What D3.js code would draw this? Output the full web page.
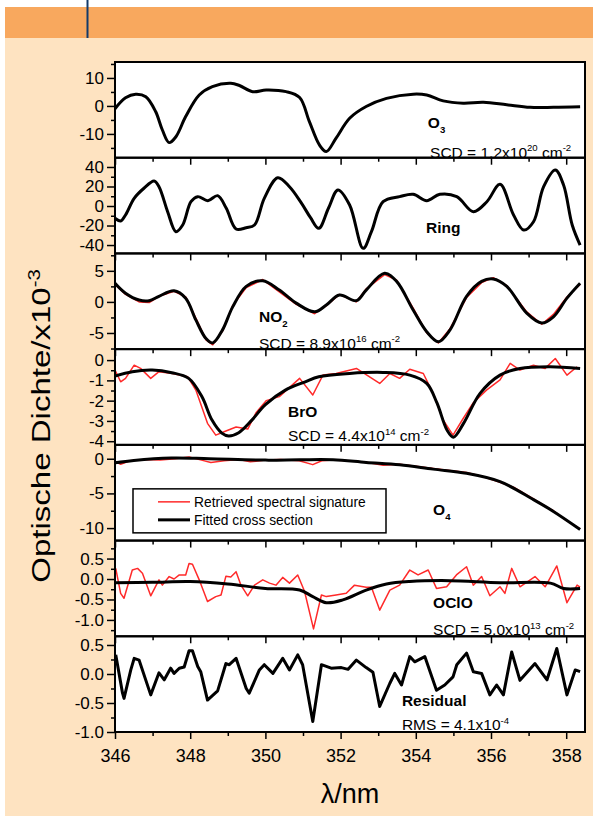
<!DOCTYPE html>
<html>
<head>
<meta charset="utf-8">
<script src="https://cdn.jsdelivr.net/npm/d3@7"></script>
<style>
  body { margin: 0; background: #fff; }
  text { font-family: "Liberation Sans", Arial, Helvetica, sans-serif; white-space: pre; }
</style>
</head>
<body>
<div id="chart"></div>
<script>
// wavelength axis ticks (nm)
var xTicks = [346, 348, 350, 352, 354, 356, 358];
var xMinorTicks = [347, 349, 351, 353, 355, 357];

// O3
var o3Nm = [346.0, 346.28, 346.55, 346.82, 347.08, 347.26, 347.44, 347.62, 347.88, 348.24, 348.59, 349.08, 349.31, 349.66, 350.02, 350.55, 350.91, 351.17, 351.44, 351.62, 351.88, 352.24, 352.68, 353.22, 353.93, 354.29, 354.73, 355.26, 355.8, 356.42, 357.04, 357.66, 358.37];
var o3Fit = [-1.0, 2.9, 4.2, 3.3, -2.0, -8.6, -13.1, -11.0, -3.8, 3.9, 6.9, 8.1, 7.3, 5.1, 5.7, 5.1, 3.0, -5.6, -14.0, -16.3, -11.5, -4.4, -0.2, 2.7, 4.2, 3.9, 1.8, 1.0, 1.3, 0.4, -0.5, -0.5, -0.3];
var o3Ticks = [-10, 0, 10], o3Minor = [-15, -5, 5, 15];

// Ring
var ringNm = [346.0, 346.15, 346.28, 346.51, 346.77, 347.04, 347.17, 347.4, 347.62, 347.8, 348.02, 348.2, 348.47, 348.73, 348.96, 349.22, 349.49, 349.71, 349.97, 350.33, 350.64, 350.95, 351.2, 351.42, 351.68, 351.93, 352.24, 352.6, 352.82, 353.13, 353.57, 353.93, 354.29, 354.64, 355.09, 355.53, 355.89, 356.24, 356.6, 356.87, 357.13, 357.4, 357.71, 357.93, 358.16, 358.37];
var ringFit = [-12.6, -15.4, -9.2, 7.9, 18.2, 25.6, 19.8, -5.8, -26.3, -19.5, 4.4, 9.6, 5.5, 10.6, -2.4, -23.6, -22.2, -19.5, 7.9, 29.0, 19.8, 3.5, -12.0, -22.9, -2.0, 16.4, 1.0, -43.4, -26.3, 4.4, 9.6, 12.0, 5.5, 12.0, 9.6, -5.8, 4.4, 22.2, -9.2, -24.6, -16.1, 19.8, 36.9, 21.5, -19.5, -40.0];
var ringTicks = [-40, -20, 0, 20, 40], ringMinor = [-30, -10, 10, 30];

// NO2
var no2Nm = [346.0, 346.28, 346.64, 346.91, 347.17, 347.57, 347.88, 348.15, 348.42, 348.6, 348.86, 349.13, 349.49, 349.93, 350.37, 350.82, 351.31, 351.62, 351.97, 352.42, 352.68, 353.17, 353.49, 353.93, 354.29, 354.6, 354.91, 355.35, 355.75, 356.06, 356.42, 356.95, 357.35, 357.66, 358.02, 358.37];
var no2Fit = [3.0, 1.4, 0.3, 0.2, 0.9, 1.8, 0.6, -2.9, -5.9, -6.6, -4.5, -0.8, 2.5, 3.4, 1.9, -0.2, -1.6, -0.5, 1.1, 0.2, 1.9, 4.6, 3.3, -1.3, -4.8, -6.4, -4.5, 0.9, 3.3, 3.7, 2.5, -1.8, -3.4, -2.4, 0.6, 3.0];
var no2Sig = [2.8, 1.2, 0.0, -0.1, 0.9, 1.7, 0.8, -2.6, -6.1, -6.9, -4.7, -0.6, 2.3, 3.6, 1.6, -0.4, -1.9, -0.6, 1.2, 0.0, 2.1, 4.4, 3.5, -1.0, -5.0, -6.6, -4.3, 0.7, 3.1, 3.9, 2.6, -1.6, -3.6, -2.0, 0.8, 2.8];
var no2Ticks = [-5, 0, 5], no2Minor = [-7.5, -2.5, 2.5, 7.5];

// BrO
var broNm = [346.0, 346.46, 346.99, 347.51, 347.96, 348.31, 348.58, 348.84, 349.02, 349.29, 349.64, 350.0, 350.53, 351.06, 351.42, 352.24, 353.13, 353.84, 354.29, 354.56, 354.83, 355.0, 355.27, 355.71, 356.24, 356.77, 357.57, 358.37];
var broFit = [-0.79, -0.57, -0.49, -0.62, -0.9, -1.8, -2.96, -3.6, -3.74, -3.58, -2.96, -2.2, -1.48, -1.07, -0.82, -0.66, -0.61, -0.74, -1.15, -2.1, -3.45, -3.8, -3.12, -1.64, -0.74, -0.41, -0.33, -0.41];
var broSigNm = [346.0, 346.15, 346.28, 346.51, 346.68, 346.95, 347.17, 347.53, 347.93, 348.15, 348.46, 348.68, 348.95, 349.22, 349.53, 349.75, 350.02, 350.37, 350.91, 351.26, 351.53, 351.88, 352.42, 353.04, 353.31, 353.57, 353.84, 354.2, 354.46, 354.73, 354.99, 355.26, 355.53, 355.88, 356.24, 356.51, 356.77, 357.13, 357.44, 357.71, 358.02, 358.29];
var broSig = [-0.49, -1.07, -0.9, -0.25, -0.41, -0.9, -0.57, -0.66, -0.82, -1.48, -3.12, -3.7, -3.5, -3.3, -3.4, -2.6, -2.0, -1.8, -0.9, -1.72, -0.74, -0.66, -0.41, -1.15, -0.66, -0.9, -0.45, -0.66, -1.64, -2.96, -3.7, -2.88, -2.1, -1.48, -0.98, -0.16, -0.49, -0.25, -0.41, 0.08, -0.74, -0.33];
var broTicks = [-4, -3, -2, -1, 0], broMinor = [-3.5, -2.5, -1.5, -0.5];

// O4
var o4Nm = [346.0, 346.5, 347.5, 348.5, 350.0, 350.91, 351.8, 352.68, 353.57, 354.46, 355.35, 356.24, 357.13, 357.66, 358.37];
var o4Fit = [-0.6, -0.25, 0.1, 0.0, -0.2, -0.15, -0.15, -0.53, -0.87, -1.5, -2.1, -3.3, -5.9, -7.6, -10.2];
var o4SigNm = [346.0, 346.15, 346.4, 346.8, 347.2, 347.6, 347.97, 348.3, 348.55, 348.9, 349.3, 349.6, 350.0, 350.4, 350.9, 351.26, 351.5, 351.8, 352.2, 352.68, 353.13, 353.57, 354.0, 354.46, 354.9, 355.35, 355.8, 356.24, 356.6, 357.13, 357.5, 357.66, 358.0, 358.37];
var o4Sig = [-0.4, -0.8, -0.3, -0.1, -0.2, 0.0, 0.25, -0.2, -0.55, -0.3, -0.1, -0.45, -0.2, -0.1, -0.3, -0.85, -0.3, -0.2, -0.3, -0.5, -0.95, -0.8, -1.1, -1.4, -1.7, -2.0, -2.6, -3.4, -4.1, -5.8, -7.0, -7.5, -8.9, -10.1];
var o4Ticks = [-10, -5, 0], o4Minor = [-7.5, -2.5];

// OClO
var ocloNm = [346.0, 347.0, 348.0, 349.0, 350.0, 350.91, 351.26, 351.62, 352.06, 352.68, 353.22, 353.84, 354.9, 356.24, 357.58, 357.93, 358.37];
var ocloFit = [-0.09, -0.08, -0.06, -0.12, -0.23, -0.27, -0.43, -0.58, -0.51, -0.27, -0.12, -0.06, -0.04, -0.09, -0.1, -0.23, -0.23];
var ocloSigNm = [346.02, 346.15, 346.24, 346.46, 346.6, 346.73, 346.95, 347.17, 347.26, 347.44, 347.57, 347.71, 347.88, 347.97, 348.06, 348.24, 348.46, 348.68, 348.82, 348.95, 349.08, 349.22, 349.35, 349.53, 349.71, 349.93, 350.11, 350.28, 350.46, 350.64, 350.86, 351.04, 351.28, 351.49, 351.62, 351.88, 352.15, 352.37, 352.68, 352.82, 353.04, 353.31, 353.57, 353.84, 354.06, 354.33, 354.55, 354.82, 355.08, 355.35, 355.53, 355.75, 355.97, 356.24, 356.37, 356.55, 356.77, 357.17, 357.44, 357.75, 358.02, 358.29, 358.37];
var ocloSig = [0.26, -0.35, -0.47, 0.22, 0.26, 0.14, -0.41, -0.02, -0.15, 0.06, 0.0, 0.1, 0.1, 0.38, 0.36, -0.02, -0.55, -0.43, -0.39, 0.07, 0.05, 0.18, -0.15, -0.41, -0.15, -0.02, -0.1, -0.15, 0.04, -0.1, 0.1, -0.3, -1.22, -0.39, -0.43, -0.39, -0.35, -0.15, -0.2, -0.2, -0.76, -0.27, -0.15, 0.22, 0.1, 0.22, -0.23, -0.19, 0.1, 0.3, -0.15, 0.06, -0.41, -0.19, -0.35, 0.26, -0.19, 0.06, -0.19, 0.32, -0.58, -0.15, -0.2];
var ocloTicks = [-1.0, -0.5, 0.0, 0.5], ocloMinor = [-1.25, -0.75, -0.25, 0.25, 0.75];

// residual
var resNm = [346.02, 346.2, 346.24, 346.42, 346.51, 346.64, 346.95, 347.17, 347.31, 347.48, 347.57, 347.71, 347.84, 347.97, 348.06, 348.2, 348.28, 348.46, 348.73, 348.95, 349.04, 349.22, 349.49, 349.57, 349.84, 349.97, 350.2, 350.46, 350.64, 350.86, 350.99, 351.26, 351.49, 351.75, 352.02, 352.2, 352.42, 352.68, 352.86, 353.04, 353.31, 353.44, 353.62, 353.84, 353.97, 354.24, 354.55, 354.77, 354.99, 355.09, 355.35, 355.53, 355.75, 355.97, 356.15, 356.33, 356.55, 356.77, 357.17, 357.49, 357.75, 358.02, 358.24, 358.37];
var resVal = [0.33, -0.33, -0.42, 0.07, 0.27, 0.24, -0.36, 0.02, -0.1, 0.1, 0.01, 0.1, 0.12, 0.4, 0.4, 0.13, 0.04, -0.45, -0.29, 0.18, 0.16, 0.27, -0.25, -0.33, 0.07, 0.16, 0.01, 0.27, 0.07, 0.33, 0.16, -0.82, 0.16, 0.1, 0.11, 0.08, 0.24, 0.11, 0.03, -0.56, -0.16, 0.01, -0.19, 0.3, 0.21, 0.3, -0.28, -0.19, -0.05, 0.16, 0.36, 0.04, 0.01, -0.36, -0.19, -0.36, 0.38, -0.11, 0.18, -0.1, 0.44, -0.36, 0.07, 0.04];
var resTicks = [-1.0, -0.5, 0.0, 0.5], resMinor = [-0.75, -0.25, 0.25];

// panel layout, top to bottom
var panels = [
  {domain: [-18.5, 15.7], ticks: o3Ticks, minor: o3Minor, dec: 0, fit: d3.zip(o3Nm, o3Fit), sig: null},
  {domain: [-48.6, 49.5], ticks: ringTicks, minor: ringMinor, dec: 0, fit: d3.zip(ringNm, ringFit), sig: null},
  {domain: [-7.6, 7.8], ticks: no2Ticks, minor: no2Minor, dec: 0, fit: d3.zip(no2Nm, no2Fit), sig: d3.zip(no2Nm, no2Sig)},
  {domain: [-4.18, 0.54], ticks: broTicks, minor: broMinor, dec: 0, fit: d3.zip(broNm, broFit), sig: d3.zip(broSigNm, broSig)},
  {domain: [-11.8, 2.0], ticks: o4Ticks, minor: o4Minor, dec: 0, fit: d3.zip(o4Nm, o4Fit), sig: d3.zip(o4SigNm, o4Sig)},
  {domain: [-1.40, 0.94], ticks: ocloTicks, minor: ocloMinor, dec: 1, fit: d3.zip(ocloNm, ocloFit), sig: d3.zip(ocloSigNm, ocloSig)},
  {domain: [-1.0, 0.65], ticks: resTicks, minor: resMinor, dec: 1, fit: d3.zip(resNm, resVal), sig: null, jagged: true}
];

// text labels: [panel, nm, offset below panel top, parts, bold]
var labels = [
  [0, 354.32, 66, [["O", 0], ["3", 1]], true],
  [0, 354.38, 96, [["SCD = 1.2x10", 0], ["20", -1], [" cm", 0], ["-2", -1]], false],
  [1, 354.27, 75, [["Ring", 0]], true],
  [2, 349.83, 68.5, [["NO", 0], ["2", 1]], true],
  [2, 349.83, 95.5, [["SCD = 8.9x10", 0], ["16", -1], [" cm", 0], ["-2", -1]], false],
  [3, 350.6, 68, [["BrO", 0]], true],
  [3, 350.6, 92, [["SCD = 4.4x10", 0], ["14", -1], [" cm", 0], ["-2", -1]], false],
  [4, 354.46, 70, [["O", 0], ["4", 1]], true],
  [5, 354.46, 67.5, [["OClO", 0]], true],
  [5, 354.46, 94.5, [["SCD = 5.0x10", 0], ["13", -1], [" cm", 0], ["-2", -1]], false],
  [6, 353.63, 70, [["Residual", 0]], true],
  [6, 353.63, 94, [["RMS = 4.1x10", 0], ["-4", -1]], false]
];

var font = '"Liberation Sans", Arial, Helvetica, sans-serif';
var plotLeft = 115, plotRight = 585, plotTop = 62, plotBottom = 732;
var panelH = (plotBottom - plotTop) / panels.length;

var svg = d3.select("#chart")
  .append("svg")
    .attr("width", 593)
    .attr("height", 816);

// page background: white margin, orange header, peach body
svg.append("rect").attr("width", 593).attr("height", 816).attr("fill", "#ffffff");
svg.append("rect").attr("x", 5).attr("y", 38).attr("width", 588).attr("height", 778).attr("fill", "#fee3c1");
svg.append("rect").attr("x", 5).attr("y", 7).attr("width", 588).attr("height", 31).attr("fill", "#f8a85e");
svg.append("line")
  .attr("x1", 87.5).attr("x2", 87.5).attr("y1", 0).attr("y2", 38)
  .attr("stroke", "#123a6a").attr("stroke-width", 2);

var defs = svg.append("defs");

var x = d3.scaleLinear()
  .domain([346, 358.5])
  .range([plotLeft, plotRight]);

// scales and white plot areas
panels.forEach(function(p, i) {
  p.top = plotTop + i * panelH;
  p.bottom = p.top + panelH;
  p.y = d3.scaleLinear().domain(p.domain).range([p.bottom, p.top]);
  svg.append("rect")
    .attr("x", plotLeft).attr("y", p.top)
    .attr("width", plotRight - plotLeft).attr("height", panelH)
    .attr("fill", "#ffffff");
  defs.append("clipPath").attr("id", "clip" + i)
    .append("rect")
      .attr("x", plotLeft).attr("y", p.top)
      .attr("width", plotRight - plotLeft).attr("height", panelH);
});

// curves
panels.forEach(function(p, i) {
  var g = svg.append("g").attr("clip-path", "url(#clip" + i + ")");
  if (p.sig) {
    var sigLine = d3.line()
      .x(function(d) { return x(d[0]); })
      .y(function(d) { return p.y(d[1]); });
    g.append("path")
      .datum(p.sig)
      .attr("d", sigLine)
      .attr("fill", "none")
      .attr("stroke", "#ff2a2a")
      .attr("stroke-width", 1.5)
      .attr("stroke-linejoin", "round");
  }
  var fitLine = d3.line()
    .x(function(d) { return x(d[0]); })
    .y(function(d) { return p.y(d[1]); })
    .curve(p.jagged ? d3.curveLinear : d3.curveCatmullRom.alpha(0.5));
  g.append("path")
    .datum(p.fit)
    .attr("d", fitLine)
    .attr("fill", "none")
    .attr("stroke", "#000")
    .attr("stroke-width", 3)
    .attr("stroke-linejoin", "round");
});

// frames and axes
panels.forEach(function(p, i) {
  var last = i === panels.length - 1;

  svg.append("rect")
    .attr("x", plotLeft).attr("y", p.top)
    .attr("width", plotRight - plotLeft).attr("height", panelH)
    .attr("fill", "none").attr("stroke", "#000").attr("stroke-width", 2);

  var inDomain = function(v) { return v >= p.domain[0] && v <= p.domain[1]; };

  var gy = svg.append("g")
    .attr("transform", "translate(" + plotLeft + ",0)")
    .call(d3.axisLeft(p.y).tickValues(p.ticks).tickSize(8).tickPadding(3)
      .tickFormat(function(d) { return d.toFixed(p.dec); }));
  gy.attr("font-size", 17).attr("font-family", font);
  var gym = svg.append("g")
    .attr("transform", "translate(" + plotLeft + ",0)")
    .call(d3.axisLeft(p.y).tickValues(p.minor.filter(inDomain)).tickSize(4).tickFormat(""));

  var gx = svg.append("g")
    .attr("transform", "translate(0," + p.bottom + ")")
    .call(d3.axisBottom(x).tickValues(xTicks).tickSize(7).tickPadding(10)
      .tickFormat(last ? d3.format("d") : ""));
  gx.attr("font-size", 18).attr("font-family", font);
  var gxm = svg.append("g")
    .attr("transform", "translate(0," + p.bottom + ")")
    .call(d3.axisBottom(x).tickValues(xMinorTicks).tickSize(4).tickFormat(""));

  [gy, gym, gx, gxm].forEach(function(g) {
    g.select(".domain").remove();
    g.selectAll("line").attr("stroke", "#000").attr("stroke-width", 1.5);
    g.selectAll("text").attr("fill", "#000");
  });
});

// text with sub/superscripts
function richText(x0, y0, parts, size, bold) {
  var t = svg.append("text")
    .attr("x", x0).attr("y", y0)
    .attr("font-size", size)
    .attr("font-weight", bold ? "bold" : "normal")
    .attr("fill", "#000");
  var prev = 0;
  parts.forEach(function(q) {
    var shift = q[1] < 0 ? -size * 0.42 : q[1] > 0 ? size * 0.3 : 0;
    t.append("tspan")
      .attr("dy", shift - prev)
      .attr("font-size", q[1] ? size * 0.62 : size)
      .text(q[0]);
    prev = shift;
  });
  return t;
}

labels.forEach(function(l) {
  var p = panels[l[0]];
  richText(x(l[1]), p.top + l[2], l[3], 15.5, l[4]);
});

// legend inside the O4 panel
var lp = panels[4];
var lg = svg.append("g").attr("transform", "translate(" + (plotLeft + 18) + "," + (lp.top + 44) + ")");
lg.append("rect")
  .attr("width", 253).attr("height", 44)
  .attr("fill", "#fff").attr("stroke", "#000").attr("stroke-width", 1.5);
lg.append("line").attr("x1", 25).attr("x2", 57).attr("y1", 13).attr("y2", 13)
  .attr("stroke", "#ff2a2a").attr("stroke-width", 1.5);
lg.append("line").attr("x1", 25).attr("x2", 57).attr("y1", 31).attr("y2", 31)
  .attr("stroke", "#000").attr("stroke-width", 3);
lg.append("text").attr("x", 61).attr("y", 18).attr("font-size", 13.8).text("Retrieved spectral signature");
lg.append("text").attr("x", 61).attr("y", 36).attr("font-size", 13.8).text("Fitted cross section");

// axis titles
var yt = svg.append("text")
  .attr("transform", "translate(50,426) rotate(-90) scale(1.27,1)")
  .attr("text-anchor", "middle")
  .attr("font-size", 26)
  .attr("fill", "#000");
yt.append("tspan").text("Optische Dichte/x10");
yt.append("tspan").attr("dy", -10).attr("font-size", 16).text("-3");

svg.append("text")
  .attr("x", (plotLeft + plotRight) / 2)
  .attr("y", 803)
  .attr("text-anchor", "middle")
  .attr("font-size", 27)
  .attr("fill", "#000")
  .text("λ/nm");
</script>
</body>
</html>
